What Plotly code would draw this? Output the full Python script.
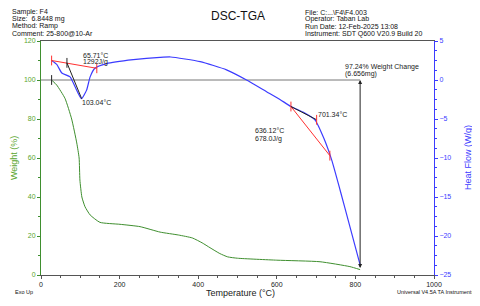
import plotly.graph_objects as go

# ---- data ----
tga_temp = [27, 40, 61, 78, 91, 97, 99, 104, 112, 125, 150, 201, 252, 303, 350, 385, 410, 430, 455, 475, 500, 600, 710, 786, 812]
tga_weight = [100, 97.4, 90.6, 80, 67.7, 60, 48.7, 40, 35, 30.8, 27, 26, 24.8, 22, 20.5, 19, 16.5, 14, 11, 9.3, 8.6, 7.6, 6.8, 4.3, 2.76]

dsc_temp = [27, 40, 53, 74, 87, 103, 116, 125, 137, 167, 235, 303, 330, 405, 472, 523, 574, 608, 636, 670, 697, 720, 740, 761, 786, 812]
dsc_hf = [2.5, 2.0, 0.9, 0.4, -0.9, -2.4, -1.3, 0.4, 1.5, 2.1, 2.6, 2.9, 2.95, 2.35, 1.3, 0.0, -1.5, -2.5, -3.4, -4.2, -5.1, -7.5, -10.3, -14.1, -18.8, -23.7]

# peak 1 analysis
p1_base_t = [27, 142]
p1_base_hf = [2.5, 1.5]
p1_tan_t = [66, 103.5]
p1_tan_hf = [2.2, -2.4]
# peak 2 analysis
p2_base_t = [636, 735]
p2_base_hf = [-3.4, -9.7]
p2_tan_t = [636, 701.34]
p2_tan_hf = [-3.4, -5.1]

weight_start = 100
weight_end = 2.76
step_temp = 812

header_left = ["Sample: F4", "Size:  6.8448 mg", "Method: Ramp", "Comment: 25-800@10-Ar"]
header_right = ["File: C:...\\F4\\F4.003", "Operator: Taban Lab", "Run Date: 12-Feb-2025 13:08", "Instrument: SDT Q600 V20.9 Build 20"]

GREEN = "#3f8f2f"
GREEN_T = "#5aa52e"
BLUE = "#3c3cff"
RED = "#ff3030"
FONT = "Liberation Sans, Arial, sans-serif"

fig = go.Figure()
fig.add_trace(go.Scatter(x=tga_temp, y=tga_weight, mode="lines", line=dict(color=GREEN, width=1, shape="spline", smoothing=0.5), yaxis="y"))
fig.add_trace(go.Scatter(x=dsc_temp, y=dsc_hf, mode="lines", line=dict(color=BLUE, width=1.2, shape="spline", smoothing=0.5), yaxis="y2"))

fig.add_trace(go.Scatter(x=[0, step_temp], y=[weight_start, weight_start], mode="lines", line=dict(color="#777", width=1), yaxis="y"))
fig.add_trace(go.Scatter(x=[tga_temp[0]], y=[tga_weight[0]], mode="markers", marker=dict(symbol="line-ns", size=7, line=dict(color="#222", width=1)), yaxis="y"))

for bt, bh, tt, th in [(p1_base_t, p1_base_hf, p1_tan_t, p1_tan_hf), (p2_base_t, p2_base_hf, p2_tan_t, p2_tan_hf)]:
    fig.add_trace(go.Scatter(x=bt, y=bh, mode="lines+markers", line=dict(color=RED, width=1),
                             marker=dict(symbol="line-ns", size=7, line=dict(color=RED, width=1)), yaxis="y2"))
    fig.add_trace(go.Scatter(x=tt, y=th, mode="lines", line=dict(color="#222", width=1), yaxis="y2"))
fig.add_trace(go.Scatter(x=[p1_tan_t[0]], y=[p1_tan_hf[0]], mode="markers", marker=dict(symbol="line-ns", size=7, line=dict(color="#222", width=1)), yaxis="y2"))
fig.add_trace(go.Scatter(x=[p2_tan_t[1]], y=[p2_tan_hf[1]], mode="markers", marker=dict(symbol="line-ns", size=7, line=dict(color=RED, width=1)), yaxis="y2"))

ann = []
ann.append(dict(x=step_temp, y=weight_start, ax=step_temp, ay=weight_end, xref="x", yref="y", axref="x", ayref="y",
                showarrow=True, arrowhead=2, arrowsize=0.8, arrowwidth=1, arrowcolor="#222", startarrowhead=2, arrowside="end+start", text=""))

# plot area in screenshot pixels: x 41..434, y 41..275 (page has an 8px body margin)
def px(x):
    return (x - 41) / 393.0
def py(y):
    return (275 - y) / 234.0

def txt(x, y, s, xa="left", ya="middle", size=7, color="#222", angle=0):
    ann.append(dict(x=px(x), y=py(y), xref="paper", yref="paper", text=s, showarrow=False,
                    xanchor=xa, yanchor=ya, textangle=angle, font=dict(family=FONT, size=size, color=color)))

# in-plot labels
txt(343, 67, "97.24% Weight Change")
txt(343, 74, "(6.656mg)")
txt(81, 55, "65.71°C")
txt(81, 62, "1292J/g")
txt(80, 103, "103.04°C")
txt(316, 114, "701.34°C")
txt(253, 131, "636.12°C")
txt(253, 139, "678.0J/g")

for i, s in enumerate(header_left):
    txt(10, 12 + i * 7.2, s, size=7, color="#111")
for i, s in enumerate(header_right):
    txt(303, 12 + i * 7.2, s, size=7, color="#111")
txt(238, 16, "DSC-TGA", xa="center", size=12, color="#111")
txt(13, 292, "Exo Up", size=5.5, color="#111")
txt(476, 292, "Universal V4.5A TA Instruments", xa="right", size=5.5, color="#111")
txt(240, 293, "Temperature (°C)", xa="center", size=9, color="#222")
txt(14, 158, "Weight (%)", xa="center", size=9, color=GREEN_T, angle=-90)
txt(468, 158, "Heat Flow (W/g)", xa="center", size=9, color=BLUE, angle=-90)

fig.update_layout(
    width=472, height=298,
    margin=dict(l=33, r=46, t=33, b=31, autoexpand=False),
    paper_bgcolor="white", plot_bgcolor="white",
    showlegend=False,
    font=dict(family=FONT, size=7),
    annotations=ann,
    xaxis=dict(range=[0, 1000], tickvals=[0, 200, 400, 600, 800, 1000], showline=True, linecolor="#555", linewidth=1, mirror=True,
               ticks="outside", ticklen=3, tickcolor="#555", showgrid=False, zeroline=False, automargin=False,
               minor=dict(dtick=50, ticks="outside", ticklen=2, tickcolor="#555"),
               tickfont=dict(family=FONT, size=7, color="#222")),
    yaxis=dict(range=[0, 120], tickvals=[0, 20, 40, 60, 80, 100, 120], showline=True, linecolor=GREEN, linewidth=1,
               ticks="outside", ticklen=3, tickcolor=GREEN, showgrid=False, zeroline=False, automargin=False,
               minor=dict(dtick=10, ticks="outside", ticklen=2, tickcolor=GREEN),
               tickfont=dict(family=FONT, size=7, color=GREEN_T)),
    yaxis2=dict(range=[-25, 5], tickvals=[-25, -20, -15, -10, -5, 0, 5], overlaying="y", side="right", showline=True, linecolor=BLUE, linewidth=1,
                ticks="outside", ticklen=3, tickcolor=BLUE, showgrid=False, zeroline=False, automargin=False,
                minor=dict(dtick=1.25, ticks="outside", ticklen=2, tickcolor=BLUE),
                tickfont=dict(family=FONT, size=7, color=BLUE)),
)

fig.write_html("out.html")
